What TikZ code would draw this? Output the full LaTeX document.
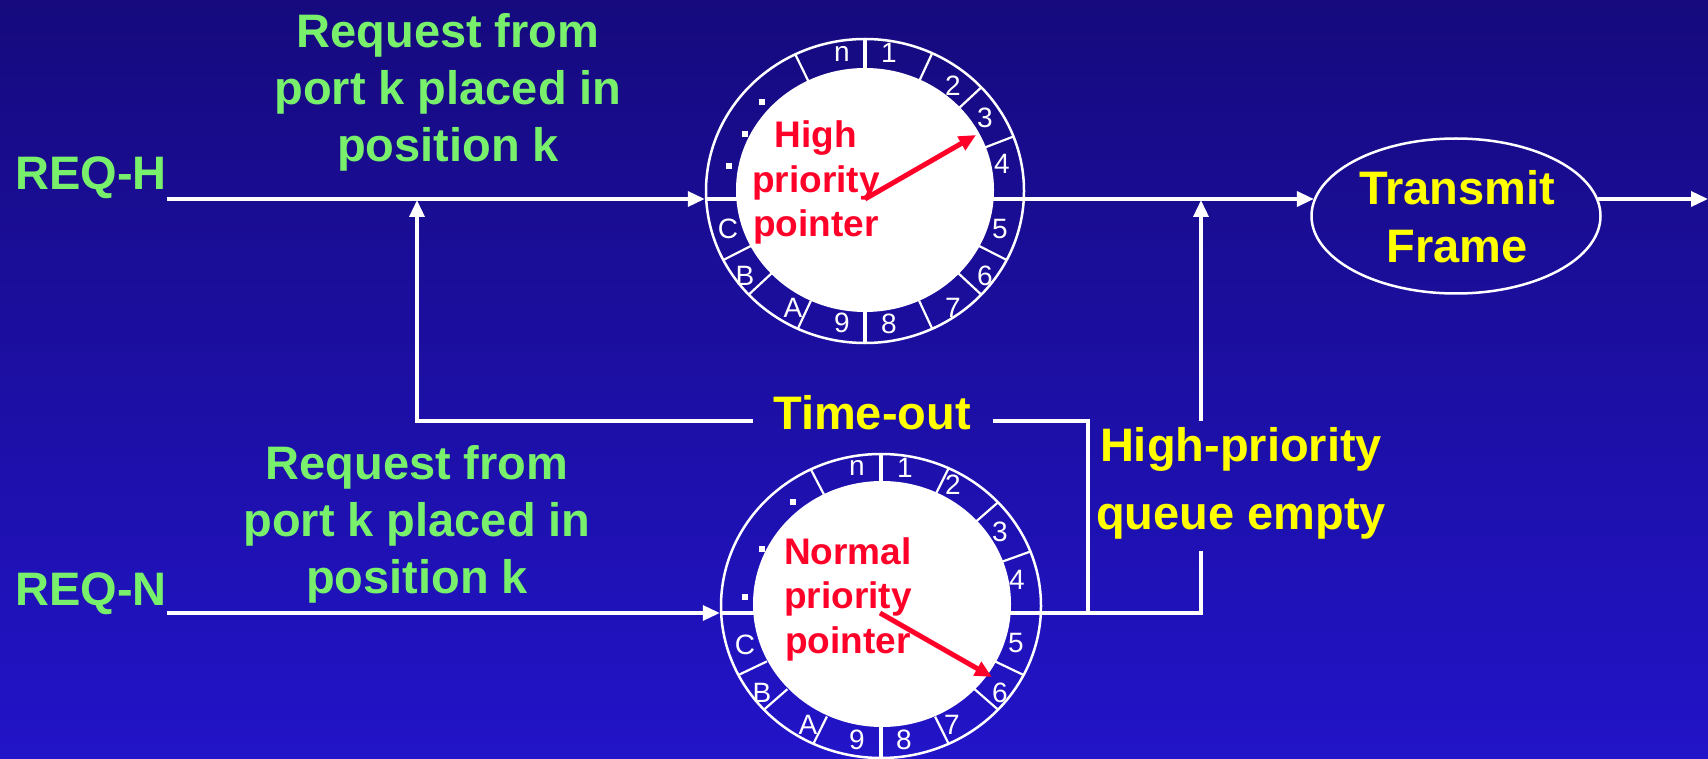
\documentclass[tikz,border=0pt]{standalone}
\usepackage{fontspec}
\setmainfont{Liberation Sans}
\usetikzlibrary{arrows.meta,shapes.geometric}

\definecolor{bgtop}{RGB}{22,10,126}
\definecolor{bgbot}{RGB}{34,20,200}
\definecolor{reqgreen}{RGB}{120,240,108}
\definecolor{noteyellow}{RGB}{255,255,0}
\definecolor{ptrred}{RGB}{255,0,40}

\begin{document}
\begin{tikzpicture}[x=1pt,y=-1pt,
  wire/.style={white,line width=3.5pt},
  flow/.style={wire,-{Triangle[length=17pt,width=15pt]}},
  ringline/.style={draw=white,line width=2.5pt,ellipse,inner sep=0pt},
  tickline/.style={white,line width=2.2pt},
  ringnum/.style={text=white,inner sep=0pt,font=\fontsize{28}{30}\selectfont},
  dotmark/.style={fill=white,minimum size=6.5pt,inner sep=0pt},
  greentxt/.style={text=reqgreen,inner sep=0pt,font=\fontsize{47}{57}\selectfont\bfseries},
  yellowtxt/.style={text=noteyellow,inner sep=0pt,font=\fontsize{47}{58}\selectfont\bfseries},
  redtxt/.style={text=ptrred,inner sep=0pt,font=\fontsize{37}{44.5}\selectfont\bfseries},
  pointer/.style={ptrred,line width=5pt,-{Triangle[length=17pt,width=15pt]}}]

% background
\shade[top color=bgtop,bottom color=bgbot] (0,0) rectangle (1708,759);
\useasboundingbox (0,0) rectangle (1708,759);

% text labels (multi-line nodes sit on the baseline of their last line)
\node[greentxt,anchor=base west] (reqH) at (15,190) {REQ-H};
\node[greentxt,anchor=base west] (reqN) at (15,605) {REQ-N};
\node[greentxt,anchor=base,align=center] (srcH) at (448,162) {Request from\\port k placed in\\position k};
\node[greentxt,anchor=base,align=center] (srcN) at (417,593) {Request from\\port k placed in\\position k};
\node[yellowtxt,anchor=base] (tout) at (872,429) {Time-out};
\node[yellowtxt,anchor=base,align=center,font=\fontsize{47}{67.5}\selectfont\bfseries] (qempty) at (1241,529) {High-priority\\queue empty};

% the two rings and the transmit stage
\node[ringline,minimum width=318pt,minimum height=304pt] (ringH) at (865,191) {};
\node[ringline,minimum width=320pt,minimum height=304pt] (ringN) at (881,606) {};
\node[ringline,minimum width=289pt,minimum height=155pt] (tx) at (1456,216) {};
\node[yellowtxt,anchor=base,align=center] (txlbl) at (1457,263) {Transmit\\Frame};

% junction points
\coordinate (hubH) at (865,199);
\coordinate (hubN) at (880,613);
\coordinate (mergeH) at (417,200);
\coordinate (mergeT) at (1201,200);
\coordinate (toutL) at (753,421);
\coordinate (toutR) at (993,421);
\coordinate (qTop) at (1201,421);
\coordinate (qBot) at (1201,551);
\coordinate (qCorner) at (1201,613);
\coordinate (jN) at (1088,613);
\coordinate (outEnd) at (1708,199);
\coordinate (tipH) at (976,135);
\coordinate (tipN) at (992,677);

% high-priority path
\draw[flow] (reqH.east |- hubH) -- (ringH.west |- hubH);
\draw[wire] (ringH.west |- hubH) -- (ringH.east |- hubH);
\draw[wire] (ringH.north) -- (ringH.south);
\draw[flow] (ringH.east |- hubH) -- (hubH -| tx.173);
\draw[flow] (hubH -| tx.7) -- (outEnd);

% normal-priority path
\draw[flow] (reqN.east |- hubN) -- (ringN.west |- hubN);
\draw[wire] (ringN.west |- hubN) -- (ringN.east |- hubN);
\draw[wire] (ringN.north) -- (ringN.south);
\draw[wire] (ringN.east |- hubN) -- (qCorner) -- (qBot);
\draw[flow] (qTop) -- (mergeT);

% time-out loop back to the high-priority input
\draw[wire] (jN) |- (toutR);
\draw[flow] (toutL) -| (mergeH);

% ring faces
\fill[white] (865,190) ellipse [x radius=129pt,y radius=122pt];
\fill[white] (882,604) ellipse [x radius=129pt,y radius=123pt];

% high-priority ring slots
\begin{scope}[shift={(865,191)}]
  \foreach \a in {116,65,43,21,-27,-43,-65,-115,-137,-153}
    \draw[tickline] (\a:128pt and 121pt) -- (\a:159pt and 152pt);
  \foreach \t/\dx/\dy in {n/-23/-137,1/24/-138,2/88/-105,3/120/-73,4/137/-27,
      5/135/38,6/120/85,7/88/117,8/24/133,9/-23/132,A/-72/117,B/-120/85,C/-137/38}
    \node[ringnum] at (\dx,\dy) {\t};
  \foreach \dx/\dy in {-103/-89,-120/-57,-136/-25}
    \node[dotmark] at (\dx,\dy) {};
\end{scope}

% normal-priority ring slots
\begin{scope}[shift={(881,606)}]
  \foreach \a in {116,65,43,21,-27,-43,-65,-115,-137,-153}
    \draw[tickline] (\a:128pt and 122pt) -- (\a:160pt and 152pt);
  \foreach \t/\dx/\dy in {n/-24/-138,1/24/-138,2/72/-121,3/119/-74,4/136/-26,
      5/135/37,6/119/87,7/71/119,8/23/134,9/-24/134,A/-73/119,B/-119/87,C/-136/39}
    \node[ringnum] at (\dx,\dy) {\t};
  \foreach \dx/\dy in {-88/-104,-119/-57,-136/-9}
    \node[dotmark] at (\dx,\dy) {};
\end{scope}

% pointers
\node[redtxt,anchor=base,align=center] (lblH) at (816,237) {High\\priority\\pointer};
\node[redtxt,anchor=base,align=center] (lblN) at (848,653) {Normal\\priority\\pointer};
\draw[pointer] (hubH) -- (tipH);
\draw[pointer] (hubN) -- (tipN);
\end{tikzpicture}
\end{document}
